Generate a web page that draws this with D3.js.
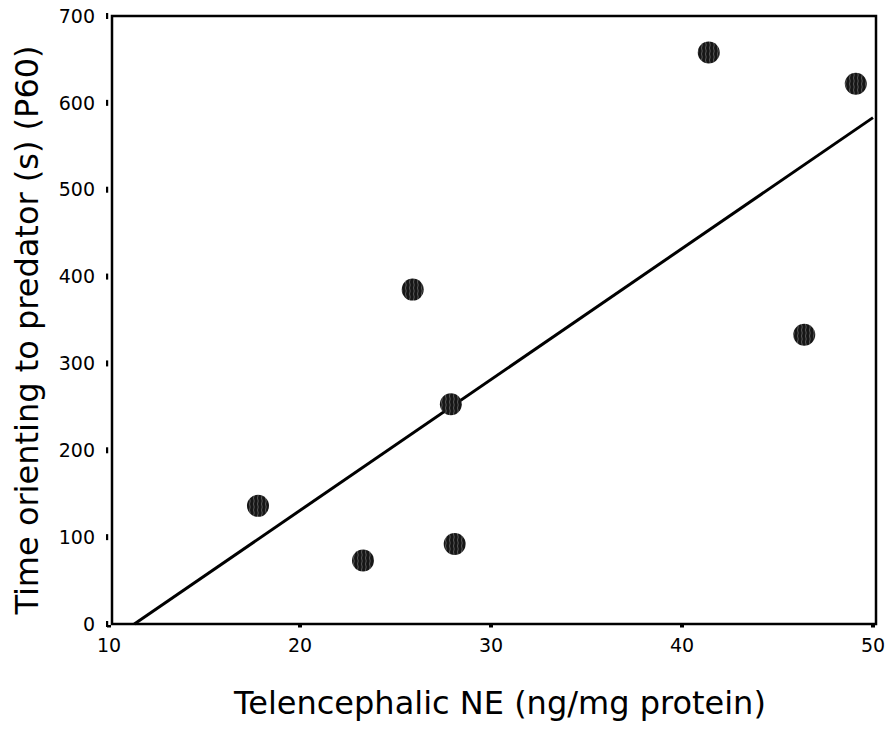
<!DOCTYPE html>
<html>
<head>
<meta charset="utf-8">
<script src="https://cdn.jsdelivr.net/npm/d3@7"></script>
<style>
  html, body { margin: 0; padding: 0; background: #fff; }
  svg { display: block; font-family: "DejaVu Sans", Verdana, sans-serif; }
</style>
</head>
<body>
<svg id="chart" width="890" height="733"></svg>
<script>
// Telencephalic NE (ng/mg protein) for each animal
const neValues = [17.8, 23.3, 28.1, 25.9, 27.9, 41.4, 49.1, 46.4];
// Time spent orienting to the predator at P60 (s)
const orientTimes = [136, 73, 92, 385, 253, 658, 622, 333];
const xTicks = [10, 20, 30, 40, 50];
const yTicks = [0, 100, 200, 300, 400, 500, 600, 700];
const xTitle = "Telencephalic NE (ng/mg protein)";
const yTitle = "Time orienting to predator (s) (P60)";

const svg = d3.select("#chart");

const x = d3.scaleLinear().domain([10, 50]).range([109, 873]);
const y = d3.scaleLinear().domain([0, 700]).range([624, 16]);

// hatched fill for the markers
const defs = svg.append("defs");
const pat = defs.append("pattern")
  .attr("id", "hatch")
  .attr("patternUnits", "userSpaceOnUse")
  .attr("width", 4).attr("height", 6);
pat.append("rect").attr("width", 4).attr("height", 6).attr("fill", "#161616");
pat.append("path").attr("d", "M1.5,0 L2.2,3 L1.5,6")
  .attr("stroke", "#6a6a6a").attr("stroke-width", 0.8).attr("fill", "none");

// frame
svg.append("rect")
  .attr("x", 112).attr("y", 16)
  .attr("width", 876 - 112).attr("height", 624 - 16)
  .attr("fill", "none").attr("stroke", "#000").attr("stroke-width", 2.5);

// y axis: short dashes left of the frame
const yAxis = svg.append("g");
yAxis.selectAll("rect").data(yTicks).join("rect")
  .attr("x", 106).attr("y", d => y(d) - 3)
  .attr("width", 2.2).attr("height", 6).attr("fill", "#000");
yAxis.selectAll("text").data(yTicks).join("text")
  .attr("x", 95).attr("y", d => y(d))
  .attr("dy", "0.35em")
  .attr("text-anchor", "end")
  .attr("font-size", 19)
  .text(d => d);

// x axis: short dashes below the frame
const xAxis = svg.append("g");
xAxis.selectAll("rect").data(xTicks).join("rect")
  .attr("x", d => x(d) - 2).attr("y", 625)
  .attr("width", 4).attr("height", 2.5).attr("fill", "#000");
xAxis.selectAll("text").data(xTicks).join("text")
  .attr("x", d => x(d)).attr("y", 645)
  .attr("dy", "0.35em")
  .attr("text-anchor", "middle")
  .attr("font-size", 19)
  .text(d => d);

// least-squares fit through the points
const mx = d3.mean(neValues), my = d3.mean(orientTimes);
let sxy = 0, sxx = 0;
neValues.forEach((v, i) => { sxy += (v - mx) * (orientTimes[i] - my); sxx += (v - mx) ** 2; });
const slope = sxy / sxx, intercept = my - slope * mx;
const xStart = -intercept / slope;
svg.append("line")
  .attr("x1", x(xStart)).attr("y1", y(0))
  .attr("x2", x(50)).attr("y2", y(intercept + slope * 50))
  .attr("stroke", "#000").attr("stroke-width", 3);

// markers
svg.append("g").selectAll("circle")
  .data(neValues.map((v, i) => [v, orientTimes[i]]))
  .join("circle")
  .attr("cx", d => x(d[0])).attr("cy", d => y(d[1]))
  .attr("r", 11)
  .attr("fill", "url(#hatch)");

// titles
svg.append("text")
  .attr("x", 500).attr("y", 714)
  .attr("text-anchor", "middle")
  .attr("font-size", 32)
  .text(xTitle);

svg.append("text")
  .attr("transform", "translate(38,330) rotate(-90)")
  .attr("text-anchor", "middle")
  .attr("font-size", 32)
  .text(yTitle);
</script>
</body>
</html>
